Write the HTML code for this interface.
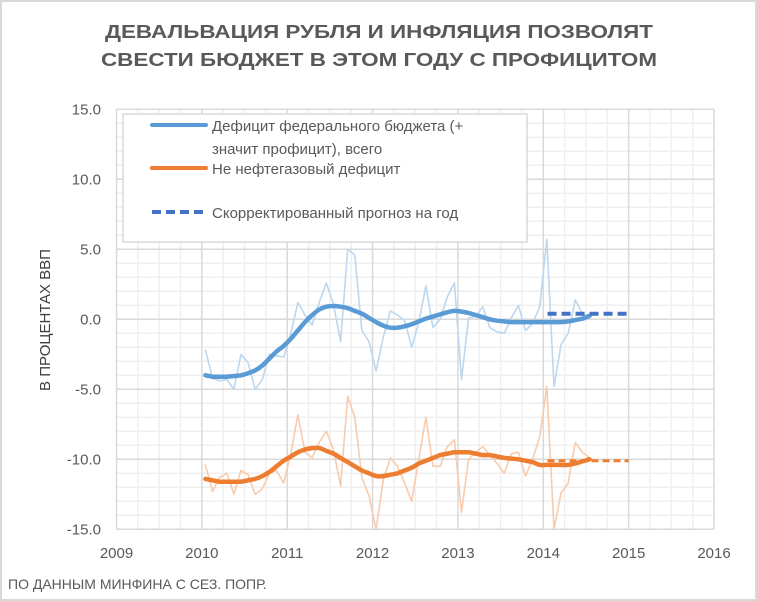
<!DOCTYPE html>
<html><head><meta charset="utf-8"><style>
html,body{margin:0;padding:0;background:#fff}
svg{display:block;font-family:"Liberation Sans","DejaVu Sans",sans-serif}
</style></head><body>
<svg id="chart" width="757" height="601" viewBox="0 0 757 601">
<rect x="1" y="1" width="755" height="599" fill="#fff" stroke="#d9d9d9" stroke-width="2"/>
<g fill="#595959" font-weight="bold" font-size="18">
<text x="379" y="38" text-anchor="middle" textLength="548" lengthAdjust="spacingAndGlyphs">ДЕВАЛЬВАЦИЯ РУБЛЯ И ИНФЛЯЦИЯ ПОЗВОЛЯТ</text>
<text x="379" y="66" text-anchor="middle" textLength="556" lengthAdjust="spacingAndGlyphs">СВЕСТИ БЮДЖЕТ В ЭТОМ ГОДУ С ПРОФИЦИТОМ</text>
</g>
<g id="grid"></g>
<g id="yticks" fill="#595959" font-size="15" text-anchor="end"></g>
<g id="xticks" fill="#595959" font-size="15" text-anchor="middle"></g>
<text transform="translate(50,320) rotate(-90)" text-anchor="middle" fill="#404040" font-size="15">В ПРОЦЕНТАХ ВВП</text>
<g id="series"></g>
<g>
<rect x="123" y="114" width="404" height="128" fill="#fff" stroke="#d9d9d9" stroke-width="1.5"/>
<line x1="152" y1="125" x2="206" y2="125" stroke="#5b9bd5" stroke-width="4" stroke-linecap="round"/>
<text x="212" y="131" font-size="15" fill="#595959">Дефицит федерального бюджета (+</text>
<text x="212" y="154" font-size="15" fill="#595959">значит профицит), всего</text>
<line x1="152" y1="168" x2="206" y2="168" stroke="#ed7d31" stroke-width="4" stroke-linecap="round"/>
<text x="212" y="174" font-size="15" fill="#595959">Не нефтегазовый дефицит</text>
<line x1="152" y1="212" x2="206" y2="212" stroke="#4472c4" stroke-width="4" stroke-dasharray="9,5"/>
<text x="212" y="218" font-size="15" fill="#595959">Скорректированный прогноз на год</text>
</g>
<text x="8" y="589" font-size="14" fill="#595959">ПО ДАННЫМ МИНФИНА С СЕЗ. ПОПР.</text>
</svg>
<script>
const xTicks = [2009, 2010, 2011, 2012, 2013, 2014, 2015, 2016];
const yTicks = [15, 10, 5, 0, -5, -10, -15];
const startYear = 2010;
const totalMonthly = [-2.2,-4.2,-4.4,-4.3,-5.0,-2.5,-3.1,-5.0,-4.3,-2.5,-2.6,-2.7,
 -1.0,1.2,0.3,-0.4,1.2,2.6,1.1,-1.6,5.0,4.6,-0.8,-1.6,
 -3.7,-1.3,0.6,0.3,-0.1,-2.0,-0.2,2.4,-0.6,0.0,1.6,2.6,
 -4.3,0.1,0.2,0.9,-0.6,-0.9,-1.0,0.1,1.0,-0.8,-0.3,0.9,
 5.7,-4.8,-1.8,-1.0,1.4,0.4,0.1];
const totalTrend = [-4.0,-4.1,-4.1,-4.1,-4.05,-4.0,-3.85,-3.65,-3.3,-2.8,-2.3,-1.9,
 -1.4,-0.8,-0.2,0.3,0.7,0.9,0.95,0.9,0.8,0.6,0.4,0.1,
 -0.2,-0.45,-0.6,-0.6,-0.5,-0.35,-0.15,0.05,0.2,0.35,0.5,0.6,
 0.55,0.45,0.3,0.15,0.0,-0.1,-0.15,-0.2,-0.2,-0.2,-0.2,-0.2,
 -0.2,-0.2,-0.2,-0.15,-0.05,0.05,0.25];
const nonOilMonthly = [-10.4,-12.3,-11.3,-11.0,-12.5,-10.8,-11.1,-12.5,-12.1,-11.0,-10.8,-11.7,
 -9.6,-6.8,-9.5,-9.9,-8.8,-8.0,-9.3,-11.9,-5.5,-7.0,-11.3,-12.6,
 -15.0,-11.5,-9.9,-10.5,-11.7,-13.0,-10.0,-7.0,-10.5,-10.5,-9.1,-8.6,
 -13.8,-10.0,-9.5,-9.1,-9.7,-10.3,-11.0,-9.6,-9.5,-11.2,-10.0,-8.4,
 -4.8,-15.0,-12.4,-11.7,-8.8,-9.5,-9.9];
const nonOilTrend = [-11.4,-11.5,-11.6,-11.6,-11.6,-11.6,-11.5,-11.4,-11.2,-10.9,-10.5,-10.1,
 -9.8,-9.5,-9.3,-9.2,-9.2,-9.4,-9.6,-9.9,-10.2,-10.5,-10.8,-11.0,
 -11.2,-11.2,-11.1,-11.0,-10.8,-10.6,-10.3,-10.1,-9.9,-9.7,-9.6,-9.5,
 -9.5,-9.5,-9.6,-9.7,-9.7,-9.8,-9.9,-9.95,-10.0,-10.1,-10.2,-10.4,
 -10.4,-10.4,-10.4,-10.4,-10.3,-10.15,-10.0];
const forecastYears = [2014.05, 2015.0];
const forecastTotal = [0.4, 0.4];
const forecastNonOil = [-10.1, -10.1];

const X0=116.5, X1=714, Y0=529.3, Y1=109.3, xmin=2009, xmax=2016, ymin=-15, ymax=15;
const xs = v => X0 + (v - xmin) / (xmax - xmin) * (X1 - X0);
const ys = v => Y0 - (v - ymin) / (ymax - ymin) * (Y0 - Y1);
const NS = "http://www.w3.org/2000/svg";
const mk = (tag, attrs, parent) => { const e = document.createElementNS(NS, tag); for (const k in attrs) e.setAttribute(k, attrs[k]); parent.appendChild(e); return e; };

const grid = document.getElementById('grid');
for (let v = ymin; v <= ymax; v += 1) {
  if (v % 5 === 0) continue;
  const l = mk('line', {x1:X0, x2:X1, y1:ys(v), y2:ys(v), stroke:'#efefef', 'stroke-width':1.5}, grid);
  
  
}
for (let q = 0; q <= (xmax - xmin) * 4; q++) {
  if (q % 4 === 0) continue;
  const x = xs(xmin + q / 4);
  const l = mk('line', {x1:x, x2:x, y1:Y1, y2:Y0, stroke:'#efefef', 'stroke-width':1.5}, grid);
  
  
}
yTicks.forEach(v => {
  const l = mk('line', {x1:X0, x2:X1, y1:ys(v), y2:ys(v), stroke:'#d9d9d9', 'stroke-width':1.5}, grid);
  
  
  const t = mk('text', {x:101, y:ys(v) + 5}, document.getElementById('yticks'));
  t.textContent = v.toFixed(1);
  
  
});
xTicks.forEach(v => {
  const l = mk('line', {x1:xs(v), x2:xs(v), y1:Y1, y2:Y0, stroke:'#d9d9d9', 'stroke-width':1.5}, grid);
  
  
  const t = mk('text', {x:xs(v), y:558}, document.getElementById('xticks'));
  t.textContent = v;
  
  
});

const series = document.getElementById('series');
const monthX = i => xs(startYear + (i + 0.5) / 12);
function poly(vals, color, w, name) {
  const pts = vals.map((v, i) => monthX(i).toFixed(1) + ',' + ys(v).toFixed(1)).join(' ');
  const p = mk('polyline', {points:pts, fill:'none', stroke:color, 'stroke-width':w, 'stroke-linejoin':'round', 'stroke-linecap':'round'}, series);
  
  
}
function smooth(vals, color, w, name) {
  const P = vals.map((v, i) => [monthX(i), ys(v)]);
  let d = 'M' + P[0][0] + ',' + P[0][1];
  for (let i = 0; i < P.length - 1; i++) {
    const p0 = P[Math.max(0, i - 1)], p1 = P[i], p2 = P[i + 1], p3 = P[Math.min(P.length - 1, i + 2)];
    const c1 = [p1[0] + (p2[0] - p0[0]) / 6, p1[1] + (p2[1] - p0[1]) / 6];
    const c2 = [p2[0] - (p3[0] - p1[0]) / 6, p2[1] - (p3[1] - p1[1]) / 6];
    d += ' C' + c1.join(',') + ' ' + c2.join(',') + ' ' + p2.join(',');
  }
  const p = mk('path', {d:d, fill:'none', stroke:color, 'stroke-width':w, 'stroke-linecap':'round'}, series);
  
  
}
poly(totalMonthly, '#bdd7ee', 1.6, 'total-deficit-monthly-line');
poly(nonOilMonthly, '#f8cbad', 1.6, 'nonoil-deficit-monthly-line');
smooth(totalTrend, '#5b9bd5', 4.5, 'total-deficit-trend-line');
smooth(nonOilTrend, '#ed7d31', 4.5, 'nonoil-deficit-trend-line');
const f1 = mk('line', {x1:xs(forecastYears[0]), x2:xs(forecastYears[1]), y1:ys(forecastTotal[0]), y2:ys(forecastTotal[1]), stroke:'#4472c4', 'stroke-width':4, 'stroke-dasharray':'9,5'}, series);


const f2 = mk('line', {x1:xs(forecastYears[0]), x2:xs(forecastYears[1]), y1:ys(forecastNonOil[0]), y2:ys(forecastNonOil[1]), stroke:'#ed7d31', 'stroke-width':3, 'stroke-dasharray':'7,4'}, series);


</script>
</body></html>
